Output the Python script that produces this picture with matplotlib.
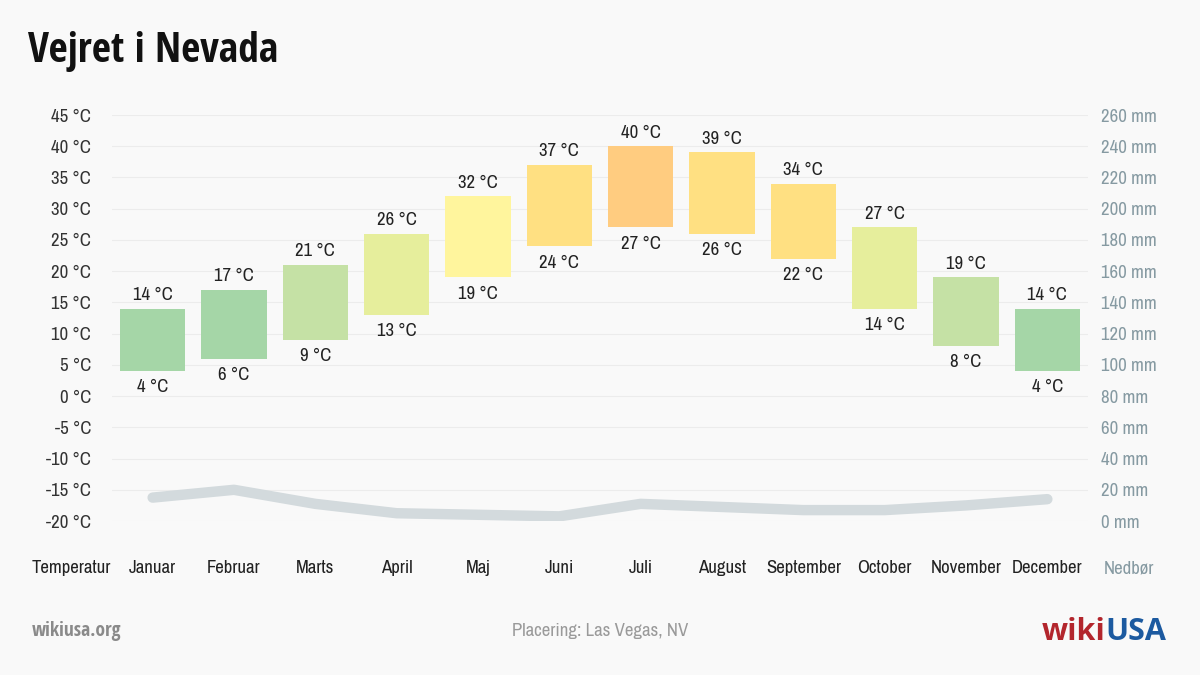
import matplotlib
matplotlib.use("Agg")
import matplotlib.pyplot as plt
from matplotlib import font_manager
from matplotlib.lines import Line2D
from matplotlib.transforms import blended_transform_factory

# climate data, Las Vegas NV
months = ["Januar", "Februar", "Marts", "April", "Maj", "Juni", "Juli",
          "August", "September", "October", "November", "December"]
temp_high = [14, 17, 21, 26, 32, 37, 40, 39, 34, 27, 19, 14]
temp_low = [4, 6, 9, 13, 19, 24, 27, 26, 22, 14, 8, 4]
precip_mm = [15, 20, 11, 5, 4, 3, 11, 9, 7, 7, 10, 14]
bar_colors = ["#a5d6a7", "#a5d6a7", "#c5e1a5", "#e6ee9c", "#fff59d", "#ffe082",
              "#ffcc80", "#ffe082", "#ffe082", "#e6ee9c", "#c5e1a5", "#a5d6a7"]
temp_ticks = list(range(-20, 50, 5))
precip_ticks = list(range(0, 280, 20))


def weight_num(w):
    if isinstance(w, int):
        return w
    return font_manager.weight_dict.get(str(w).lower(), 400)


# narrow faces: a bold one for the title, a lighter one for everything else
fonts = font_manager.fontManager.ttflist
narrow_fonts = [f for f in fonts if "Condensed" in f.name or "Narrow" in f.name]
bold_family = "Open Sans"
text_family, text_weight = "Open Sans", "normal"
for f in narrow_fonts:
    if weight_num(f.weight) >= 600 and f.name.startswith("Open Sans"):
        bold_family = f.name
light = [f for f in narrow_fonts if weight_num(f.weight) < 600 and f.style == "normal"]
light.sort(key=lambda f: (not f.name.startswith("Open Sans"), abs(weight_num(f.weight) - 400)))
if light:
    text_family, text_weight = light[0].name, weight_num(light[0].weight)
narrow = bool(light)
fs = 13.5 if narrow else 11
plt.rcParams["font.family"] = [text_family, "DejaVu Sans"]
plt.rcParams["font.weight"] = text_weight

bg = "#f9f9f9"
fig = plt.figure(figsize=(12, 6.75), dpi=100, facecolor=bg)
ax = fig.add_axes([0.0933, 0.2281, 0.8134, 0.6015], facecolor=bg)

x = list(range(len(months)))
heights = [h - l for h, l in zip(temp_high, temp_low)]
ax.bar(x, heights, bottom=temp_low, width=0.8, color=bar_colors, zorder=2)

for i in x:
    ax.annotate(f"{temp_high[i]} °C", (i, temp_high[i]), xytext=(0, 4),
                textcoords="offset points", ha="center", va="bottom",
                fontsize=fs, color="#222222")
    ax.annotate(f"{temp_low[i]} °C", (i, temp_low[i]), xytext=(0, -6),
                textcoords="offset points", ha="center", va="top",
                fontsize=fs, color="#222222")

ax.set_xlim(-0.5, 11.5)
ax.set_ylim(-20, 45)
ax.set_yticks(temp_ticks)
ax.set_yticklabels([f"{t} °C" for t in temp_ticks])
ax.yaxis.grid(True, color="#ececec", linewidth=0.8, zorder=0)
ax.tick_params(axis="y", length=0, pad=15, labelsize=fs, labelcolor="#333333")
ax.set_xticks([])
for s in ax.spines.values():
    s.set_visible(False)

ax2 = ax.twinx()
ax2.plot(x, precip_mm, color="#d3dadd", linewidth=7.5,
         solid_capstyle="round", solid_joinstyle="round")
ax2.set_ylim(0, 260)
ax2.set_yticks(precip_ticks)
ax2.set_yticklabels([f"{p} mm" for p in precip_ticks])
ax2.tick_params(axis="y", length=0, pad=9, labelsize=fs, labelcolor="#869aa2")
for s in ax2.spines.values():
    s.set_visible(False)

# month row, with the two axis names at either end
trans = blended_transform_factory(ax.transData, fig.transFigure)
label_y = 1 - 568 / 675
for i, m in enumerate(months):
    ax.text(i, label_y, m, transform=trans, ha="center", va="center",
            fontsize=fs, color="#222222", clip_on=False)
ax.text(-1, label_y, "Temperatur", transform=trans, ha="center", va="center",
        fontsize=fs, color="#222222", clip_on=False)
ax.text(12, label_y, "Nedbør", transform=trans, ha="center", va="center",
        fontsize=fs, color="#869aa2", clip_on=False)

# title and footer
fig.text(28 / 1200, 1 - 52 / 675, "Vejret i Nevada", fontsize=30,
         fontweight="bold", color="#111111", ha="left", va="center", family=bold_family)
fig.text(32 / 1200, 1 - 631 / 675, "wikiusa.org", fontsize=14,
         fontweight="bold", color="#8a8a8a", ha="left", va="center", family=bold_family)
fig.text(600 / 1200, 1 - 631 / 675, "Placering: Las Vegas, NV", fontsize=fs,
         color="#9a9a9a", ha="center", va="center")
fig.text(1105 / 1200, 1 - 632 / 675, "USA", fontsize=22, fontweight="bold",
         color="#1c5aa0", ha="left", va="center", family="Open Sans")
fig.text(1105 / 1200, 1 - 632 / 675, "wiki", fontsize=22, fontweight="bold",
         color="#b3262d", ha="right", va="center", family="Open Sans")
# little white star inside the logo's A
fig.add_artist(Line2D([1156 / 1200], [1 - 630 / 675], marker="*", markersize=5,
                      color="white", markeredgewidth=0, transform=fig.transFigure))

fig.savefig("out.png", dpi=100, facecolor=bg)
